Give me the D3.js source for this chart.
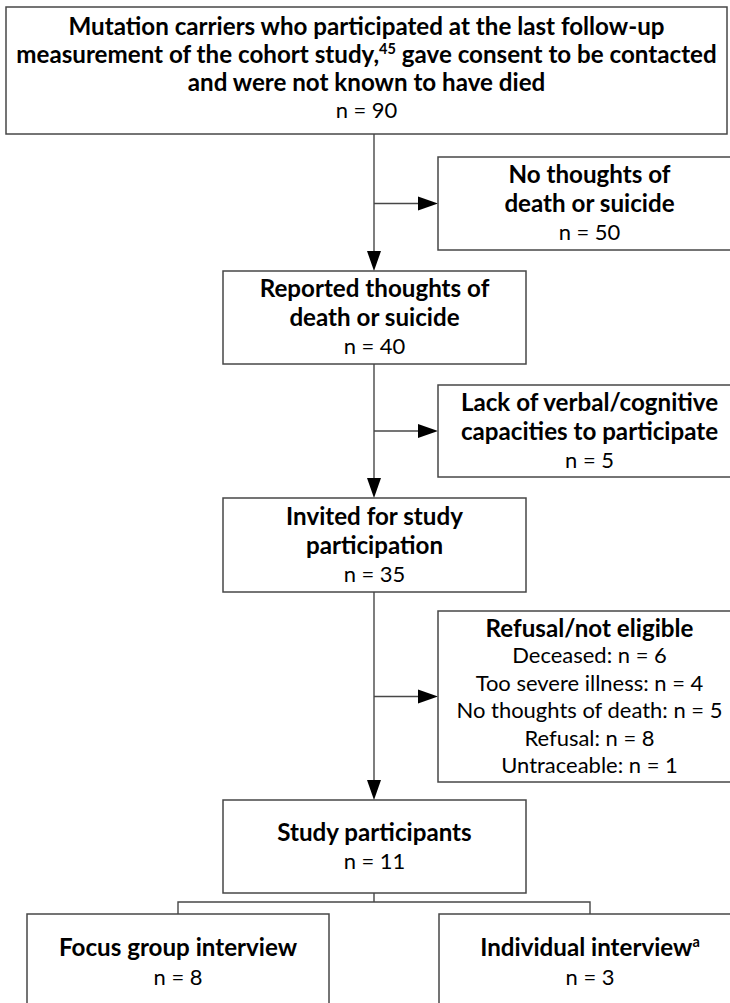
<!DOCTYPE html>
<head>
	<meta charset="utf-8">
	<title>Flowchart</title>
	<style>
	body{margin:0;background:#fff;}
	svg{display:block;}
	.box{fill:#fff;stroke:#474747;stroke-width:1.5px;}
	.link{fill:none;stroke:#474747;stroke-width:1.4px;}
	.head{fill:#000;}
	.bold{font-family:Lato,sans-serif;font-weight:bold;text-anchor:middle;fill:#000;}
	.reg{font-family:Lato,sans-serif;font-weight:normal;text-anchor:middle;fill:#000;}
	</style>
	<script src="https://d3js.org/d3.v7.min.js"></script>
</head>
<body>
	<svg id="chart" width="730" height="1003"></svg>
	<script>
	// data
	var stageLabels = [
		["Mutation carriers who participated at the last follow-up",
		 "measurement of the cohort study,{45} gave consent to be contacted",
		 "and were not known to have died"],
		["Reported thoughts of", "death or suicide"],
		["Invited for study", "participation"],
		["Study participants"]
	];
	var stageCounts = [90, 40, 35, 11];

	var exclusionLabels = [
		["No thoughts of", "death or suicide"],
		["Lack of verbal/cognitive", "capacities to participate"],
		["Refusal/not eligible"]
	];
	var exclusionCounts = [50, 5, null];

	var refusalReasons = ["Deceased", "Too severe illness", "No thoughts of death", "Refusal", "Untraceable"];
	var refusalCounts = [6, 4, 5, 8, 1];

	var interviewLabels = ["Focus group interview", "Individual interview{a}"];
	var interviewCounts = [8, 3];

	// layout
	var svg = d3.select("#chart");
	var midX = 374;
	var cols = {top:[6,727], main:[223,526], side:[438,741], left:[27,329], right:[439,741]};
	var stageRows = [[7,134],[271,364],[498,592],[800,893]];
	var sideRows = [[157,250],[385,477],[611,782]];
	var bottomRow = [914,1012];
	var lineGap = 29;

	// font sizes fitted on lines of the figure
	function fitSize(cls, str, target){
		var t = svg.append("text").attr("class", cls).attr("font-size", 20).text(str);
		var w = t.node().getComputedTextLength();
		t.remove();
		return 20 * target / w;
	}
	var boldSize = fitSize("bold", "Refusal/not eligible", 208);
	var regSize = fitSize("reg", "No thoughts of death: n = 5", 266);

	// a line is {text, bold}
	function addLines(cx, y0, y1, lines, gap, shift){
		var mid = (y0 + y1) / 2 + (shift || 0);
		var first = mid - (lines.length - 1) * gap / 2;
		lines.forEach(function(l, i){
			var fs = l.bold ? boldSize : regSize;
			var t = svg.append("text")
				.attr("class", l.bold ? "bold" : "reg")
				.attr("font-size", fs)
				.attr("x", cx)
				.attr("y", first + i * gap + fs * 0.36);
			// parts in {} are superscripts
			var raised = false;
			l.text.split(/(\{[^}]*\})/).forEach(function(p){
				if (!p) return;
				if (p[0] === "{") {
					t.append("tspan").attr("font-size", fs * 0.6).attr("dy", -fs * 0.38).text(p.slice(1, -1));
					raised = true;
				} else {
					var s = t.append("tspan").text(p);
					if (raised) { s.attr("dy", fs * 0.38); raised = false; }
				}
			});
		});
	}

	function box(c, r){
		svg.append("rect").attr("class", "box")
			.attr("x", c[0]).attr("y", r[0])
			.attr("width", c[1] - c[0]).attr("height", r[1] - r[0]);
	}

	function arrow(x1, y1, x2, y2){
		var len = 20, hw = 7;
		var dx = x2 - x1, dy = y2 - y1, d = Math.sqrt(dx*dx + dy*dy);
		var ux = dx / d, uy = dy / d;
		var bx = x2 - ux * len, by = y2 - uy * len;
		svg.append("line").attr("class", "link")
			.attr("x1", x1).attr("y1", y1).attr("x2", bx).attr("y2", by);
		svg.append("path").attr("class", "head")
			.attr("d", "M" + x2 + "," + y2 + "L" + (bx - uy*hw) + "," + (by + ux*hw) +
				"L" + (bx + uy*hw) + "," + (by - ux*hw) + "Z");
	}

	// connectors along the main column
	for (var i = 0; i < stageRows.length - 1; i++) {
		arrow(midX, stageRows[i][1], midX, stageRows[i+1][0]);
	}
	sideRows.forEach(function(r){
		arrow(midX, (r[0] + r[1]) / 2, cols.side[0], (r[0] + r[1]) / 2);
	});

	// split to the two interview types
	var splitY = 902;
	var lx = (cols.left[0] + cols.left[1]) / 2, rx = (cols.right[0] + cols.right[1]) / 2;
	svg.append("path").attr("class", "link")
		.attr("d", "M" + midX + "," + stageRows[3][1] + "V" + splitY +
			"M" + lx + "," + bottomRow[0] + "V" + splitY + "H" + rx + "V" + bottomRow[0]);

	// stage boxes
	stageRows.forEach(function(r, i){
		var c = i === 0 ? cols.top : cols.main;
		box(c, r);
		var lines = stageLabels[i].map(function(s){ return {text:s, bold:true}; });
		lines.push({text:"n = " + stageCounts[i], bold:false});
		addLines((c[0] + c[1]) / 2, r[0], r[1], lines, i === 0 ? 28 : lineGap, i === 0 ? -2 : 0);
	});

	// exclusion boxes
	sideRows.forEach(function(r, i){
		box(cols.side, r);
		var lines = exclusionLabels[i].map(function(s){ return {text:s, bold:true}; });
		if (exclusionCounts[i] !== null) {
			lines.push({text:"n = " + exclusionCounts[i], bold:false});
		} else {
			refusalReasons.forEach(function(s, k){
				lines.push({text:s + ": n = " + refusalCounts[k], bold:false});
			});
		}
		addLines((cols.side[0] + cols.side[1]) / 2, r[0], r[1], lines, lines.length > 3 ? 27.4 : lineGap);
	});

	// interview boxes (cut by the page bottom)
	[cols.left, cols.right].forEach(function(c, i){
		box(c, bottomRow);
		addLines((c[0] + c[1]) / 2, bottomRow[0] + 33, bottomRow[0] + 63,
			[{text:interviewLabels[i], bold:true}, {text:"n = " + interviewCounts[i], bold:false}], 30);
	});
	</script>
</body>
</html>
